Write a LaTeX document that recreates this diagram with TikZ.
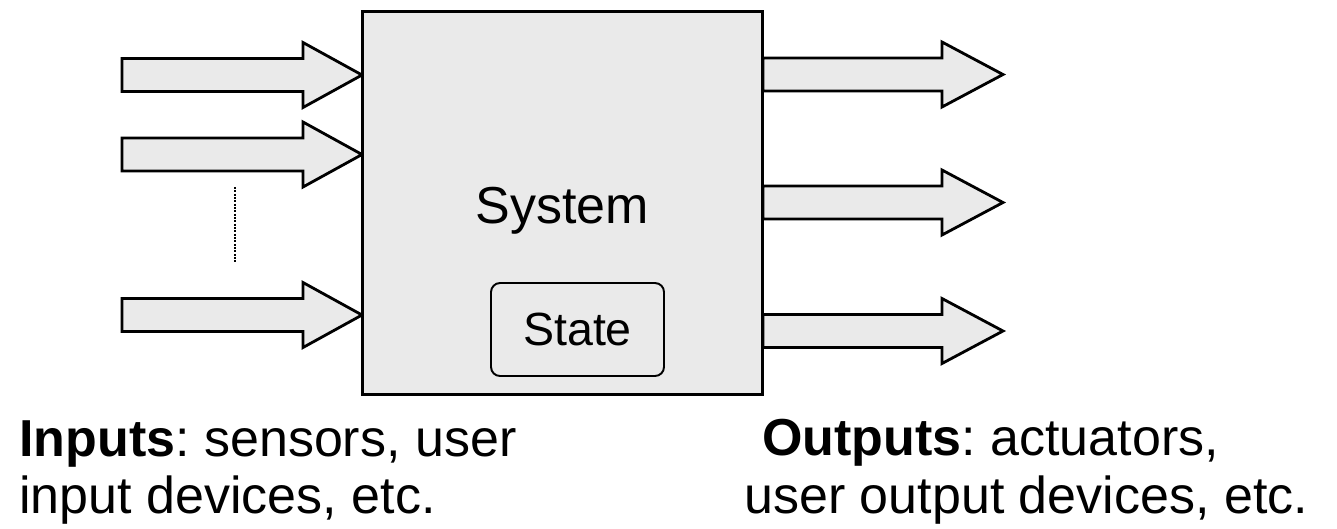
\documentclass[tikz,border=0pt]{standalone}
\usepackage{fontspec}
\setmainfont{Liberation Sans}
\usepackage{xcolor}
\usepackage{tikz}
\usetikzlibrary{positioning}
\definecolor{boxgray}{HTML}{EAEAEA}
\frenchspacing

\begin{document}
\begin{tikzpicture}[x=0.02cm,y=-0.02cm,
		blockarrow/.style={draw=black,fill=boxgray,line width=1.6pt,line join=miter},
		sysbox/.style={draw=black,fill=boxgray,line width=1.7pt,inner sep=0pt,minimum width=8.02cm,minimum height=7.68cm},
		statebox/.style={draw=black,rounded corners=0.18cm,line width=1.1pt,inner sep=0pt,minimum width=3.46cm,minimum height=1.86cm,font=\fontsize{26.5}{31}\selectfont},
		bigtext/.style={inner sep=0pt,font=\fontsize{29.6}{35}\selectfont}]
		\useasboundingbox (0,0) rectangle (1337,528);
		% inputs
		\draw[blockarrow] (122,58.5) -- (303,58.5) -- (303,42.5) -- (362,75) -- (303,107.5) -- (303,91.5) -- (122,91.5) -- cycle;
		\draw[blockarrow] (122,138) -- (303,138) -- (303,122) -- (362,154.5) -- (303,187) -- (303,171) -- (122,171) -- cycle;
		\draw[blockarrow] (122,298.5) -- (303,298.5) -- (303,282.5) -- (362,315) -- (303,347.5) -- (303,331.5) -- (122,331.5) -- cycle;
		\draw[line width=1.5pt,dash pattern=on 1.1pt off 0.8pt] (235,187) -- (235,263);
		% outputs
		\draw[blockarrow] (763,58) -- (942,58) -- (942,42) -- (1003,74.5) -- (942,107) -- (942,91) -- (763,91) -- cycle;
		\draw[blockarrow] (763,186) -- (942,186) -- (942,170) -- (1003,202.5) -- (942,235) -- (942,219) -- (763,219) -- cycle;
		\draw[blockarrow] (763,314.5) -- (942,314.5) -- (942,298.5) -- (1003,331) -- (942,363.5) -- (942,347.5) -- (763,347.5) -- cycle;
		% system
		\node[sysbox] (sys) at (562.5,203) {};
		\node[bigtext,anchor=base] (syslabel) at (562.5,223) {System};
		\node[statebox] (state) at (577.5,329.5) {State};
		% captions
		\node[bigtext,anchor=base west] (inputs) at (19,456) {\textbf{Inputs}: sensors, user};
		\node[bigtext,anchor=base west] (inputsb) at (19,513) {input devices, etc.};
		\node[bigtext,anchor=base west] (outputs) at (762,455) {\textbf{Outputs}: actuators,};
		\node[bigtext,anchor=base west] (outputsb) at (744,513) {user output devices, etc.};
	\end{tikzpicture}
\end{document}
